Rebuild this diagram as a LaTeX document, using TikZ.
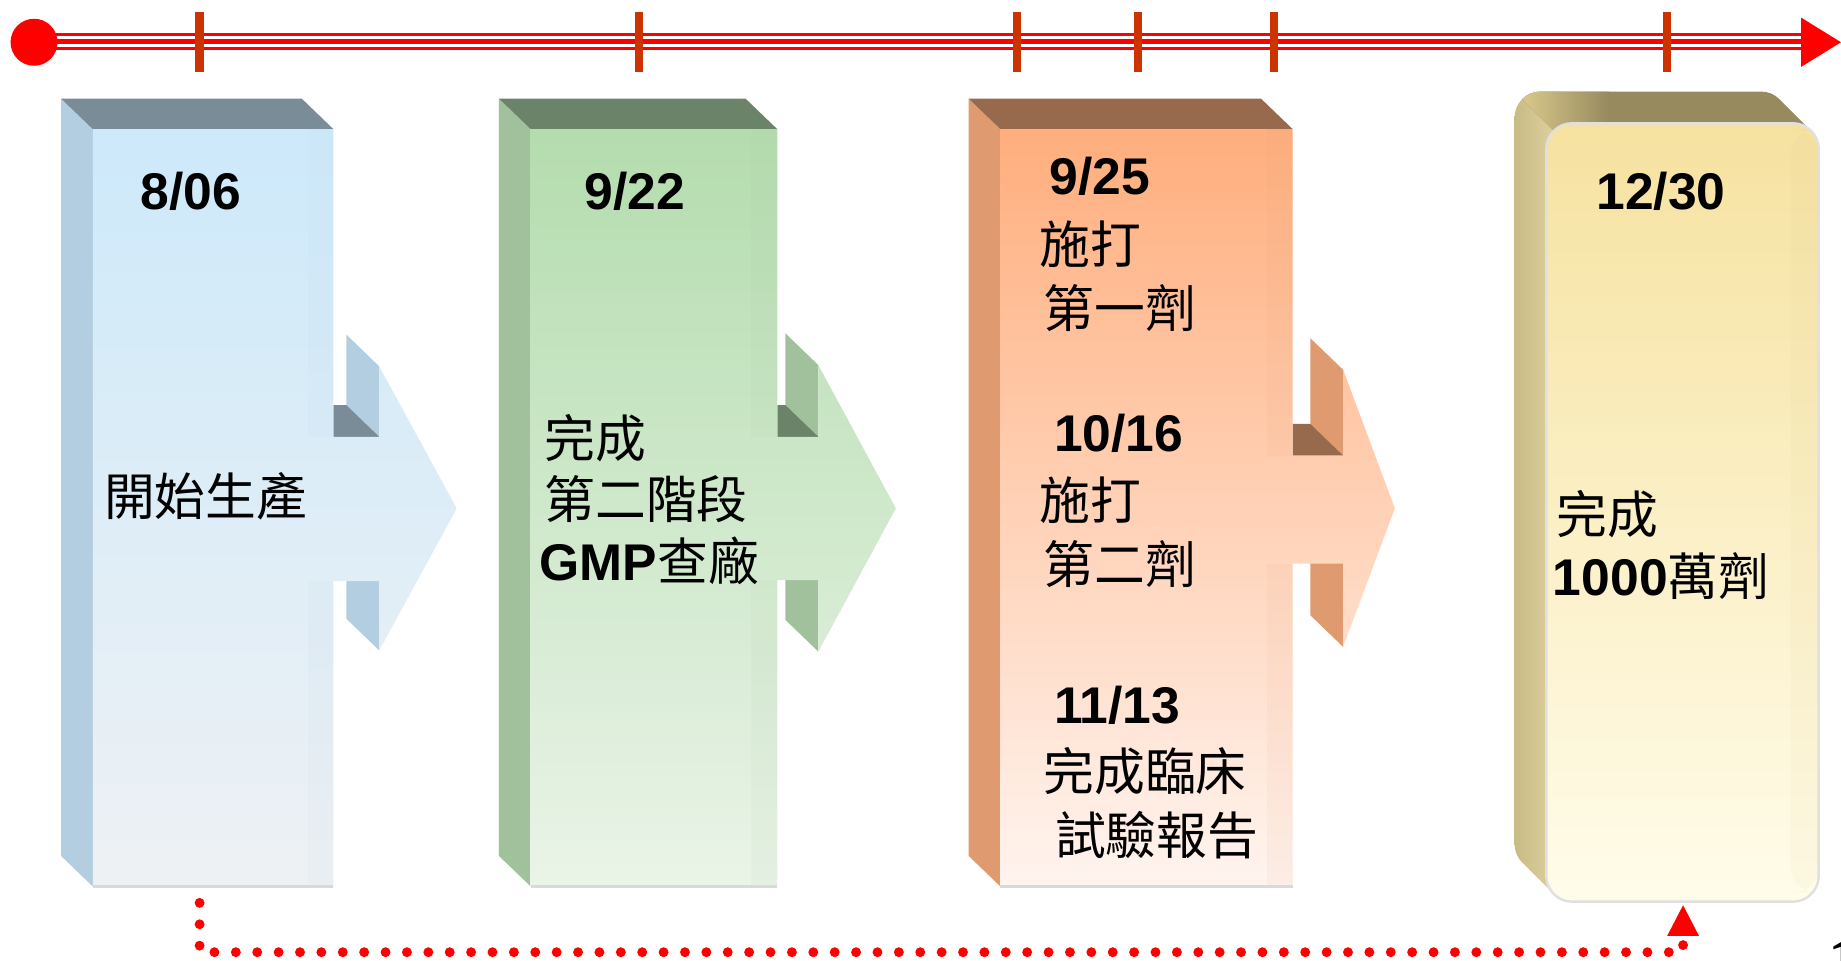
\documentclass[tikz,border=0pt]{standalone}
\usepackage{fontspec}
\setmainfont{Liberation Sans}
\newfontfamily\cjk{Noto Sans CJK TC}
\newfontfamily\serifnum{Liberation Serif}
\definecolor{b1top}{HTML}{7A8C98}\definecolor{b1left}{HTML}{B4CEE1}
\definecolor{b1ft}{HTML}{CDE9FA}\definecolor{b1fb}{HTML}{EEF1F4}
\definecolor{b2top}{HTML}{6B8368}\definecolor{b2left}{HTML}{A0C19B}
\definecolor{b2ft}{HTML}{B4DCAE}\definecolor{b2fb}{HTML}{EAF4E8}
\definecolor{b3top}{HTML}{976A4D}\definecolor{b3left}{HTML}{E09A70}
\definecolor{b3ft}{HTML}{FFAE7D}\definecolor{b3fb}{HTML}{FFF4EF}
\definecolor{y4top}{HTML}{978A5F}\definecolor{y4left}{HTML}{D9C98B}
\definecolor{y4ft}{HTML}{F6E2A0}\definecolor{y4fb}{HTML}{FFFCEA}
\definecolor{tickc}{HTML}{CC3300}
\newcommand\ArrowBox[9]{%
  \fill[#9left] (#1-27,84) -- (#1,110) -- (#1,755) -- (#1-27,729) -- cycle;
  \fill[#9top] (#1-27,84) -- (#2-27,84) -- (#2,110) -- (#1,110) -- cycle;
  \fill[#9left] (#3-28,#7-27) -- (#3,#7) -- (#3,#5) -- (#3-28,#5-27) -- cycle;
  \fill[#9top] (#2,#5-27) -- (#3-28,#5-27) -- (#3,#5) -- (#2,#5) -- cycle;
  \fill[#9left] (#3-28,#6-27) -- (#3,#6) -- (#3,#8) -- (#3-28,#8-27) -- cycle;
  \shade[top color=#9ft, bottom color=#9fb] (#1,110) -- (#2,110) -- (#2,#5) -- (#3,#5) -- (#3,#7) -- (#4,433) -- (#3,#8) -- (#3,#6) -- (#2,#6) -- (#2,755) -- (#1,755) -- cycle;
  \fill[#9left, opacity=0.07] (#2-22,110) rectangle (#2,#5);
  \fill[#9left, opacity=0.07] (#2-22,#6) rectangle (#2,755);
  \draw[black!15, line width=0.8pt] (#1,755) -- (#2,755);
}
\tikzset{
  date/.style={font=\bfseries\fontsize{12.5}{15}\selectfont, anchor=west, inner sep=0pt},
  zh/.style={font=\cjk\fontsize{12.3}{15}\selectfont, anchor=west, inner sep=0pt},
  dotline/.style={red, line width=2.4pt, line cap=round, dash pattern=on 0pt off 5.18pt},
}
\begin{document}
\begin{tikzpicture}[x=0.01cm, y=-0.01cm]
\useasboundingbox (0,0) rectangle (1568,818);
% timeline
\fill[red] (40,28) rectangle (1536,43);
\fill[white] (40,30.6) rectangle (1536,33.2);
\fill[white] (40,37.6) rectangle (1536,39.8);
\node[circle, fill=red, minimum size=0.4cm, inner sep=0pt] (start) at (29,36) {};
\fill[red] (1534,15) -- (1568,36) -- (1534,57) -- cycle;
\foreach \x in {170,544,866,969,1085,1420} \fill[tickc] (\x-3.5,10) rectangle (\x+3.5,61);
% boxes with arrows
\ArrowBox{79}{284}{323}{389}{372}{495}{312}{554}{b1}
\ArrowBox{452}{662}{697}{763}{372}{494}{311}{555}{b2}
\ArrowBox{852}{1101}{1144}{1188}{388}{480}{315}{551}{b3}
% final rounded box
\begin{scope}
  \clip[rounded corners=0.22cm] \foreach \i in {0,...,27} { ({1317-\i},{105-\i}) rectangle ({1549-\i},{768-\i}) };
  \shade[left color=y4left!90!black, right color=y4left!80!white] (1280,0) rectangle (1330,800);
  \fill[y4top] (1323,111) -- (1296,84) -- (1296,0) -- (1600,0) -- (1600,300) -- (1530,300) -- (1530,111) -- cycle;
  \shade[left color=y4left, right color=y4top] (1323,111) -- (1296,84) -- (1296,0) -- (1370,0) -- (1370,111) -- cycle;
\end{scope}
\shade[top color=y4ft, bottom color=y4fb, rounded corners=0.22cm] (1317,105) rectangle (1549,768);
\fill[y4left, opacity=0.08, rounded corners=0.22cm] (1525,110) rectangle (1549,760);
\draw[black!12, line width=0.6pt, rounded corners=0.22cm] (1317,105) rectangle (1549,768);
% texts
\node[date] (d1) at (119,163) {8/06};
\node[zh] (t1) at (88,423) {開始生產};
\node[date] (d2) at (497,163) {9/22};
\node[zh] (t2a) at (463,373) {完成};
\node[zh] (t2b) at (463,425) {第二階段};
\node[zh] (t2c) at (459,478) {{\normalfont\bfseries\fontsize{12.5}{15}\selectfont GMP}查廠};
\node[date] (d3a) at (893,150) {9/25};
\node[zh] (t3a) at (885,208) {施打};
\node[zh] (t3b) at (888,262) {第一劑};
\node[date] (d3b) at (897,369) {10/16};
\node[zh] (t3c) at (885,426) {施打};
\node[zh] (t3d) at (888,480) {第二劑};
\node[date] (d3c) at (897,601) {11/13};
\node[zh] (t3e) at (888,657) {完成臨床};
\node[zh] (t3f) at (898,711) {試驗報告};
\node[date] (d4) at (1359,163) {12/30};
\node[zh] (t4a) at (1325,438) {完成};
\node[zh] (t4b) at (1322,491) {{\normalfont\bfseries\fontsize{12.5}{15}\selectfont 1000}萬劑};
% dotted connector
\coordinate (c1) at (170,769);
\coordinate (c4) at (1433.5,797);
\coordinate (cbot) at (800,811);
\draw[dotline] (c1) |- (cbot) -| (c4);
\fill[red] (c4) ++(-13.5,0) -- ++(27,0) -- ++(-13.5,-26) -- cycle;
% page number (cut off at the edge, as in the reference)
\node[anchor=north west, inner sep=0pt, font=\serifnum\bfseries\fontsize{16}{16}\selectfont] (pg) at (1557,800) {1};
\end{tikzpicture}
\end{document}
